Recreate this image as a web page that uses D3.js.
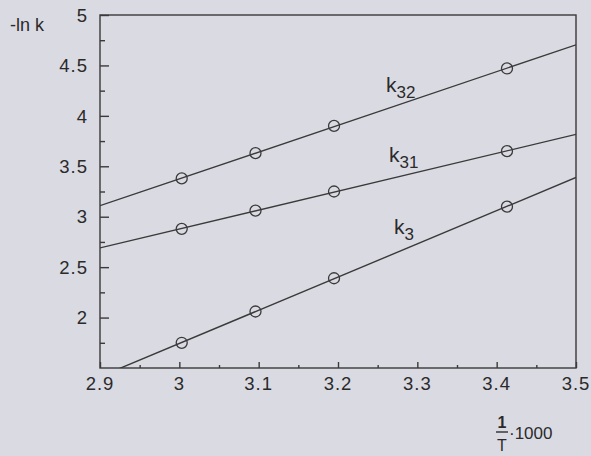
<!DOCTYPE html>
<html>
<head>
<meta charset="utf-8">
<script src="https://cdn.jsdelivr.net/npm/d3@7"></script>
<style>
  body { margin: 0; background: #dadae3; }
  svg { display: block; }
  text { font-family: "Liberation Sans", Arial, sans-serif; fill: #2a2a2a; }
</style>
</head>
<body>
<script>
// 1/T*1000 values for the four temperatures
const invT = [3.003, 3.096, 3.195, 3.413]

// -ln k values
const k32 = [3.38, 3.63, 3.90, 4.47]
const k31 = [2.88, 3.06, 3.25, 3.65]
const k3 = [1.75, 2.06, 2.39, 3.10]

const xTicks = [2.9, 3.0, 3.1, 3.2, 3.3, 3.4, 3.5]
const xMinor = [2.95, 3.05, 3.15, 3.25, 3.35, 3.45]
const yTicks = [2, 2.5, 3, 3.5, 4, 4.5, 5]
const yMinor = [1.75, 2.25, 2.75, 3.25, 3.75, 4.25, 4.75]

const series = [
    {name: "k", sub: "32", values: k32, lx: 386, ly: 92},
    {name: "k", sub: "31", values: k31, lx: 389, ly: 162},
    {name: "k", sub: "3", values: k3, lx: 394, ly: 234}
]

const width = 591, height = 456
const ink = "#3a3a3a"
const fmt = d3.format("~g")

let svg = d3.select("body").append("svg")
    .attr("width", width)
    .attr("height", height)

let x = d3.scaleLinear().domain([2.9, 3.5]).range([100, 576])
let y = d3.scaleLinear().domain([1.5, 5]).range([368, 15])

svg.append("clipPath").attr("id", "plot")
    .append("rect")
    .attr("x", x(2.9)).attr("y", y(5))
    .attr("width", x(3.5) - x(2.9)).attr("height", y(1.5) - y(5))

// box
svg.append("rect")
    .attr("x", x(2.9)).attr("y", y(5))
    .attr("width", x(3.5) - x(2.9)).attr("height", y(1.5) - y(5))
    .attr("fill", "none")
    .attr("stroke", ink)
    .attr("stroke-width", 1.4)

// ticks point inward, labels drawn separately
let axes = [
    svg.append("g").attr("transform", `translate(${x(2.9)},0)`)
        .call(d3.axisLeft(y).tickValues(yTicks).tickSize(-9).tickFormat("")),
    svg.append("g").attr("transform", `translate(${x(2.9)},0)`)
        .call(d3.axisLeft(y).tickValues(yMinor).tickSize(-5).tickFormat("")),
    svg.append("g").attr("transform", `translate(0,${y(1.5)})`)
        .call(d3.axisBottom(x).tickValues(xTicks).tickSize(-6).tickFormat("")),
    svg.append("g").attr("transform", `translate(0,${y(1.5)})`)
        .call(d3.axisBottom(x).tickValues(xMinor).tickSize(-3).tickFormat(""))
]
for (let g of axes) {
    g.select(".domain").remove()
    g.selectAll(".tick text").remove()
    g.selectAll(".tick line").attr("stroke", ink).attr("stroke-width", 1.4)
}

svg.selectAll(".ylab")
    .data(yTicks)
    .enter()
    .append("text")
    .attr("class", "ylab")
    .attr("x", 88)
    .attr("y", d => y(d))
    .attr("dy", "0.36em")
    .attr("text-anchor", "end")
    .style("font-size", "18.5px")
    .style("letter-spacing", "1px")
    .text(d => fmt(d))

svg.selectAll(".xlab")
    .data(xTicks)
    .enter()
    .append("text")
    .attr("class", "xlab")
    .attr("x", d => x(d))
    .attr("y", 390)
    .attr("text-anchor", "middle")
    .style("font-size", "18.5px")
    .style("letter-spacing", "1px")
    .text(d => fmt(d))

// fitted straight lines through each series
function fit(xs, ys) {
    let mx = d3.mean(xs), my = d3.mean(ys)
    let num = d3.sum(xs, (v, i) => (v - mx) * (ys[i] - my))
    let den = d3.sum(xs, v => (v - mx) * (v - mx))
    let b = num / den
    return t => my + b * (t - mx)
}

let plot = svg.append("g").attr("clip-path", "url(#plot)")

for (let s of series) {
    let f = fit(invT, s.values)
    let dom = x.domain()
    plot.append("line")
        .attr("x1", x(dom[0])).attr("y1", y(f(dom[0])))
        .attr("x2", x(dom[1])).attr("y2", y(f(dom[1])))
        .attr("stroke", ink)
        .attr("stroke-width", 1.4)

    plot.selectAll(null)
        .data(invT.map((v, i) => [v, s.values[i]]))
        .enter()
        .append("circle")
        .attr("cx", d => x(d[0]))
        .attr("cy", d => y(d[1]))
        .attr("r", 5.5)
        .attr("fill", "none")
        .attr("stroke", ink)
        .attr("stroke-width", 1.3)

    let lab = svg.append("text")
        .attr("x", s.lx)
        .attr("y", s.ly)
        .style("font-size", "21px")
        .text(s.name)
    lab.append("tspan")
        .attr("dy", 6)
        .style("font-size", "17px")
        .text(s.sub)
}

// axis titles
svg.append("text")
    .attr("x", 10).attr("y", 31)
    .style("font-size", "18px")
    .text("-ln k")

let xt = svg.append("g").attr("transform", "translate(502,0)")
xt.append("text")
    .attr("x", 0).attr("y", 428)
    .attr("text-anchor", "middle")
    .style("font-size", "16px")
    .style("font-weight", "bold")
    .text("1")
xt.append("line")
    .attr("x1", -6).attr("x2", 6)
    .attr("y1", 432).attr("y2", 432)
    .attr("stroke", ink)
    .attr("stroke-width", 1.5)
xt.append("text")
    .attr("x", 0).attr("y", 451)
    .attr("text-anchor", "middle")
    .style("font-size", "16px")
    .text("T")
xt.append("text")
    .attr("x", 7).attr("y", 439)
    .style("font-size", "17px")
    .text("·1000")
</script>
</body>
</html>
